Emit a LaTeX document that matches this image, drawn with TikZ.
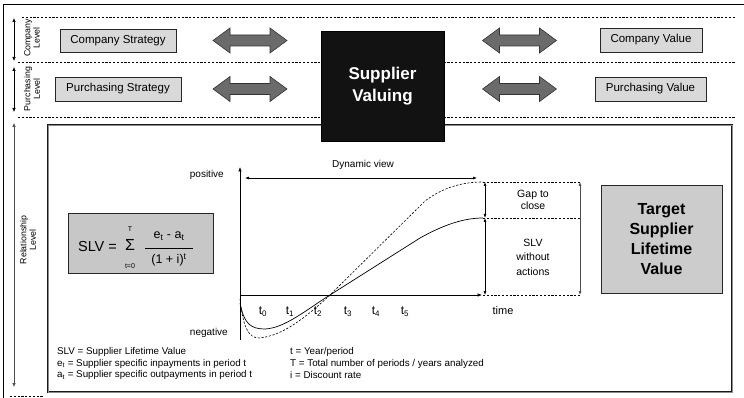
\documentclass[tikz,border=0pt]{standalone}
\usepackage{fontspec}
\setmainfont{Liberation Sans}
\usetikzlibrary{arrows.meta}
\definecolor{boxgray}{gray}{0.85}
\definecolor{fatgray}{gray}{0.42}
\definecolor{frameinner}{gray}{0.55}
\begin{document}
\begin{tikzpicture}[x=1pt,y=-1pt,
  lvl/.style={{Latex[length=4pt,width=3.5pt]}-{Latex[length=4pt,width=3.5pt]}, line width=0.6pt},
  dim/.style={{Latex[length=4pt,width=3pt]}-{Latex[length=4pt,width=3pt]}, line width=0.6pt},
  axis/.style={-{Latex[length=4.5pt,width=3.5pt]}, line width=0.6pt},
  sep/.style={dash pattern=on 2.2pt off 1.6pt, line width=0.5pt},
  valbox/.style={draw=black!85, fill=boxgray, line width=0.7pt, inner sep=0pt,
    font=\fontsize{11.5}{13}\selectfont},
  lvltext/.style={rotate=90, align=center, font=\fontsize{8.8}{9.4}\selectfont},
  small/.style={font=\fontsize{10}{11.5}\selectfont},
  legend/.style={anchor=west, font=\fontsize{9.8}{11}\selectfont, inner sep=0pt},
  tick/.style={font=\fontsize{12}{13}\selectfont},
  fatarrow/.pic={
    \draw[fill=fatgray, draw=black!80, line width=0.6pt]
      (-37,0) -- (-20,-12.5) -- (-20,-5.5) -- (20,-5.5) -- (20,-12.5) -- (37,0)
      -- (20,12.5) -- (20,5.5) -- (-20,5.5) -- (-20,12.5) -- cycle;
  }]
\useasboundingbox (0,0) rectangle (744,398);

% outer frame (top and left edges)
\draw[line width=0.8pt] (744,4) -- (3,4) -- (3,398);

% level separators
\draw[sep] (22,17) -- (735,17);
\draw[sep] (18,62) -- (735,62);
\draw[sep] (18,117) -- (735,117);
\draw[sep] (10,396) -- (44,396);

% level arrows and labels
\coordinate (c1) at (14,18);  \coordinate (c2) at (14,61);
\coordinate (p1) at (14,67);  \coordinate (p2) at (14,112);
\coordinate (r1) at (14,123); \coordinate (r2) at (14,387);
\draw[lvl] (c1) -- (c2);
\draw[lvl] (p1) -- (p2);
\draw[lvl, draw=black!70] (r1) -- (r2);
\node[lvltext] (lc) at (32,38) {Company\\Level};
\node[lvltext] (lp) at (32,89) {Purchasing\\Level};
\node[lvltext] (lr) at (28,240) {Relationship\\Level};

% strategy and value boxes
\node[valbox, minimum width=116pt, minimum height=23pt] (cs) at (118,40.5) {Company Strategy};
\node[valbox, minimum width=126pt, minimum height=24pt] (ps) at (118,89) {Purchasing Strategy};
\node[valbox, minimum width=102pt, minimum height=24pt] (cv) at (651,40) {Company Value};
\node[valbox, minimum width=111pt, minimum height=24pt] (pv) at (650.5,89) {Purchasing Value};

% two-headed block arrows
\pic at (250,40.5) {fatarrow};
\pic at (250,89) {fatarrow};
\pic at (519.5,40.5) {fatarrow};
\pic at (519.5,89) {fatarrow};

% relationship frame
\draw[draw=black!90, line width=0.7pt, double=frameinner, double distance=0.8pt]
  (48,125) rectangle (732,392);

% central box
\node[fill=black!93, draw=black, minimum width=123pt, minimum height=110pt, inner sep=0pt,
  text=white, align=center, font=\fontsize{17}{22}\selectfont\bfseries] (sv) at (382.5,86)
  {Supplier\\Valuing};

% formula box
\node[draw=black!85, fill=black!22, line width=0.7pt, minimum width=145pt, minimum height=60pt,
  inner sep=0pt] (fb) at (140.5,243) {};
\node[font=\fontsize{14.5}{16}\selectfont, inner sep=0pt] (slv) at (97.5,247) {SLV =};
\node[font=\fontsize{16}{17}\selectfont, inner sep=0pt] (sig) at (130,245) {Σ};
\node[font=\fontsize{7}{8}\selectfont, inner sep=0pt] (supT) at (130,229) {T};
\node[font=\fontsize{7}{8}\selectfont, inner sep=0pt] (subt) at (130,266) {t=0};
\node[font=\fontsize{12.5}{13}\selectfont, inner sep=0pt] (num) at (169,236) {e\textsubscript{t} - a\textsubscript{t}};
\node[font=\fontsize{12.5}{13}\selectfont, inner sep=0pt] (den) at (169,260) {(1 + i)\textsuperscript{t}};
\coordinate (fl) at (145,248); \coordinate (fr) at (193,248);
\draw[line width=0.6pt] (fl) -- (fr);

% graph axes
\coordinate (O) at (240,295);
\coordinate (ytop) at (240,167);
\coordinate (ybot) at (240,340);
\coordinate (xend) at (482,295);
\draw[axis] (ybot) -- (ytop);
\draw[axis] (O) -- (xend);
\node[small, anchor=east, inner sep=0pt] (pos) at (224,175) {positive};
\node[small, anchor=east, inner sep=0pt] (neg) at (228,333) {negative};
\node[tick, font=\fontsize{11}{12}\selectfont, inner sep=0pt] (timel) at (503,311) {time};

% dynamic view
\coordinate (dv1) at (245,178); \coordinate (dv2) at (477,178);
\draw[dim] (dv1) -- (dv2);
\node[small, inner sep=0pt] (dvl) at (363,165) {Dynamic view};

% period labels
\foreach \i/\x in {0/263,1/290,2/318,3/348,4/376,5/405}
  \node[tick, inner sep=0pt] (t\i) at (\x,312) {t\textsubscript{\i}};

% value curves
\draw[line width=0.7pt] (240,303) .. controls (244,324) and (251,329) .. (265,329)
  .. controls (285,328) and (306,310) .. (330,295) -- (420,238)
  .. controls (445,224) and (465,218) .. (483,218);
\draw[sep, line width=0.6pt] (240,299) .. controls (243,328) and (249,338) .. (259,338)
  .. controls (283,336) and (306,317) .. (329,296) -- (425,201)
  .. controls (445,186) and (465,182) .. (483,182);

% gap construction
\coordinate (gd) at (483,182); \coordinate (gs) at (483,218); \coordinate (gb) at (483,295);
\coordinate (hd) at (580,182); \coordinate (hs) at (580,218); \coordinate (hb) at (580,295);
\draw[sep] (gd) -- (hd);
\draw[sep] (gs) -- (hs);
\draw[sep] (gb) -- (hb);
\coordinate (a1) at (485,182); \coordinate (a2) at (485,218); \coordinate (a3) at (485,295);
\draw[dim] (a1) -- (a2);
\draw[dim] (a2) -- (a3);
\draw[dim, draw=black!70] (hd) -- (hb);
\node[small, align=center, inner sep=0pt, font=\fontsize{10.5}{12}\selectfont] (gap) at (533,200) {Gap to\\close};
\node[small, align=center, inner sep=0pt, font=\fontsize{10.5}{14.5}\selectfont] (wo) at (533,257) {SLV\\without\\actions};

% target box
\node[draw=black!85, fill=black!20, line width=0.7pt, minimum width=121pt, minimum height=108pt,
  inner sep=0pt, align=center, font=\fontsize{16}{20}\selectfont\bfseries] (tg) at (661.5,239)
  {Target\\Supplier\\Lifetime\\Value};

% legend
\node[legend] (l1) at (57,352) {SLV = Supplier Lifetime Value};
\node[legend] (l2) at (57,363.5) {e\textsubscript{t} = Supplier specific inpayments in period t};
\node[legend] (l3) at (57,375) {a\textsubscript{t} = Supplier specific outpayments in period t};
\node[legend] (l4) at (290,352) {t = Year/period};
\node[legend] (l5) at (290,363.5) {T = Total number of periods / years analyzed};
\node[legend] (l6) at (290,375) {i = Discount rate};
\end{tikzpicture}
\end{document}
